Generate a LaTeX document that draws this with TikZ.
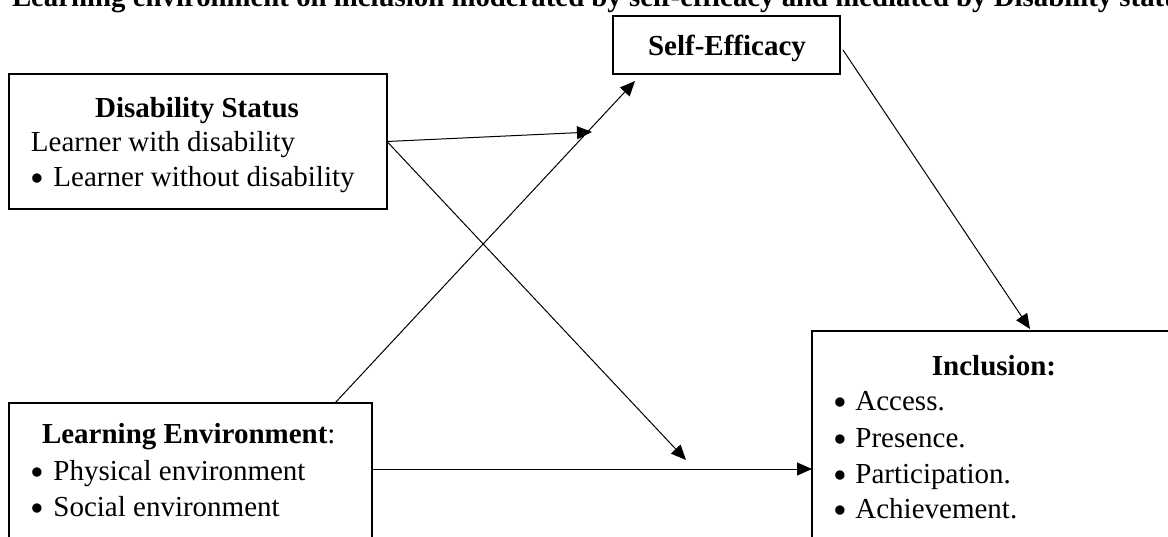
\documentclass[tikz,border=0pt]{standalone}
\usepackage{fontspec}
\setmainfont{Liberation Serif}
\usetikzlibrary{arrows.meta,calc}
\newcommand\mybullet{\raisebox{-0.19em}{\scalebox{1.35}{\textbullet}}\hspace{0.3em}}
\begin{document}
\begin{tikzpicture}[x=0.5pt,y=-0.5pt,
  box/.style={draw,line width=1.3pt,inner sep=0pt,outer sep=0pt,anchor=north west,rectangle},
  txt/.style={inner sep=0pt,outer sep=0pt,anchor=base west,font=\fontsize{14.5}{17}\selectfont},
  btxt/.style={inner sep=0pt,outer sep=0pt,anchor=base,font=\fontsize{14.5}{17}\selectfont\bfseries},
  conn/.style={line width=0.5pt,-{Triangle[length=7.5pt,width=6.5pt]}}]
\useasboundingbox (0,0) rectangle (1168,536);
\clip (0,0) rectangle (1168,536);
\fill[white] (0,0) rectangle (1168,536);

% title (clipped at the top and right, as in the reference)
\node[txt,font=\fontsize{14.4}{17}\selectfont\bfseries] (title) at (12,6)
  {Learning environment on inclusion moderated by self-efficacy and mediated by Disability status};

% boxes
\node[box,minimum width=189pt,minimum height=67.5pt] (ds) at (9,74) {};
\node[box,minimum width=113.5pt,minimum height=29pt] (se) at (613,16) {};
\node[box,minimum width=181.5pt,minimum height=100pt] (le) at (9,403) {};
\node[box,minimum width=250pt,minimum height=150pt] (inc) at (812,331) {};

% texts
\node[btxt] (dsT) at (197,117) {Disability Status};
\node[txt] (ds1) at (31,151) {Learner with disability};
\node[txt] (ds2) at (31,186) {\mybullet Learner without disability};

\node[btxt] (seT) at (727,55) {Self-Efficacy};

\node[txt] (leT) at (42,443) {\textbf{Learning Environment}:};
\node[txt] (le1) at (31,480) {\mybullet Physical environment};
\node[txt] (le2) at (31,516) {\mybullet Social environment};

\node[btxt] (incT) at (994,375) {Inclusion:};
\node[txt] (inc1) at (833,410) {\mybullet Access.};
\node[txt] (inc2) at (833,447) {\mybullet Presence.};
\node[txt] (inc3) at (833,483) {\mybullet Participation.};
\node[txt] (inc4) at (833,518) {\mybullet Achievement.};

% connector end points
\coordinate (t1) at (592,132);
\coordinate (t2) at (686,460);
\coordinate (le0) at ($(le.north east)+(-37,0)$);
\coordinate (t3) at ($(se.south west)+(22,7)$);
\coordinate (le4) at ($(le.north east)+(0,66)$);
\coordinate (se5) at ($(se.east)+(3,5)$);
\coordinate (t5) at ($(inc.north west)+(218,-2)$);

% connectors
\draw[conn] (ds.east) -- (t1);
\draw[conn] (ds.east) -- (t2);
\draw[conn] (le0) -- (t3);
\draw[conn] (le4) -- (le4 -| inc.west);
\draw[conn] (se5) -- (t5);
\end{tikzpicture}
\end{document}
